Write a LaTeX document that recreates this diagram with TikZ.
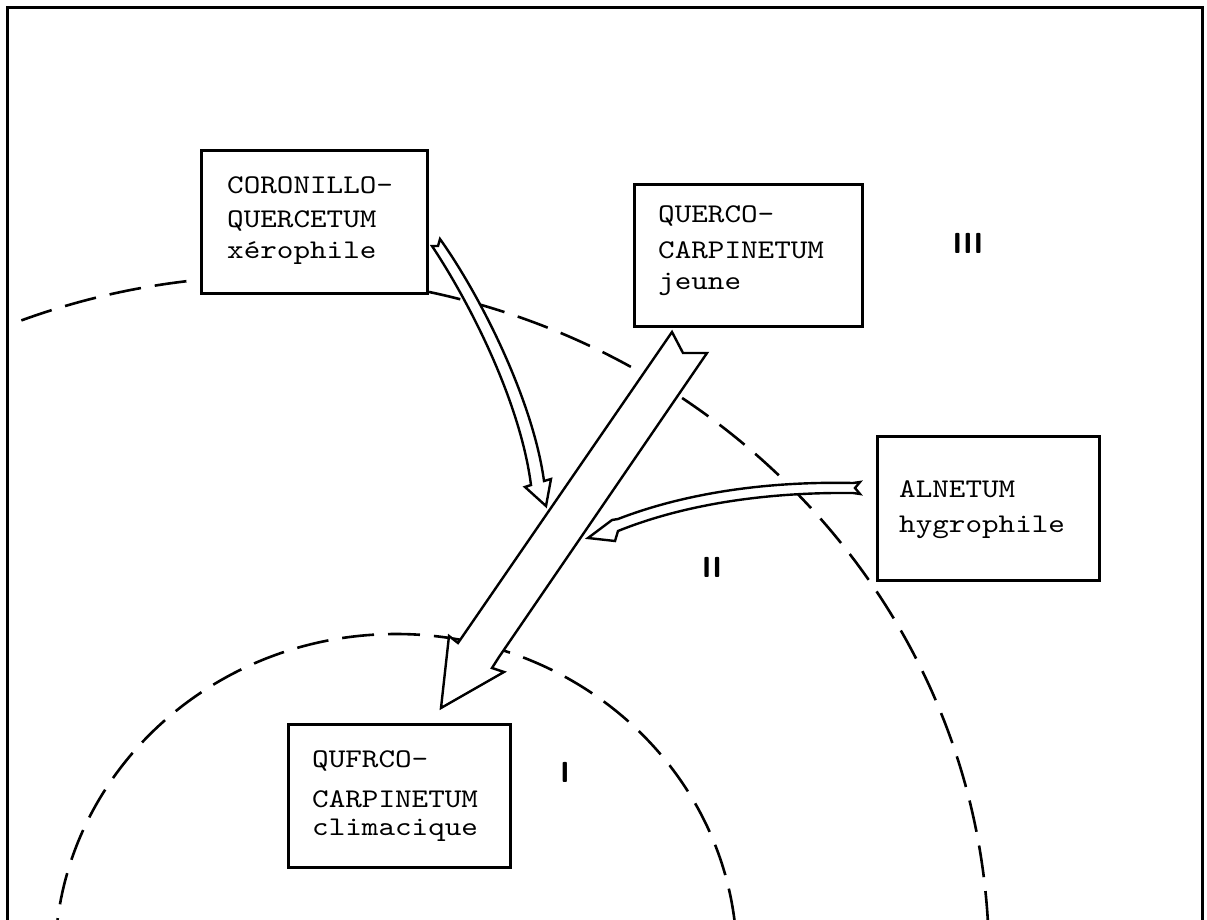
\documentclass[tikz,border=0pt]{standalone}
\usepackage{fontspec}
\newfontfamily\typew{lmmono10-regular}[Extension=.otf,FakeStretch=1.17]
\begin{document}
\begin{tikzpicture}[x=1pt,y=-1pt,
  frame/.style={line width=3pt},
  zone/.style={line width=2.6pt, dash pattern=on 32pt off 14pt},
  boxst/.style={draw, line width=3pt, fill=white, rectangle, inner sep=0pt, anchor=north west},
  txtst/.style={font=\typew\fontsize{27}{30}\selectfont, align=left, inner sep=0pt, anchor=base west},
  zonelab/.style={font=\sffamily\bfseries\fontsize{29}{29}\selectfont, inner sep=0pt},
  arrowst/.style={draw, fill=white, line width=2.4pt, line join=miter}]

\useasboundingbox (0,0) rectangle (1207,920);

% open frame
\draw[frame] (7,920) -- (7,8) -- (1202,8) -- (1202,920);

% zone limits
\begin{scope}
  \clip (7,8) rectangle (1202,920);
  \draw[zone] (275,960) ellipse [x radius=714, y radius=684];
  \draw[zone] (396,960) ellipse [x radius=341, y radius=326];
\end{scope}

% main succession arrow
\draw[arrowst] (672,332) -- (683,353) -- (707,353) -- (499,657) -- (492,668)
  -- (504,672) -- (441,708) -- (449,636) -- (458,643) -- cycle;

% arrow from the xerophile stage
\draw[arrowst] (432,246) .. controls (468,300) and (520,400) .. (531,485)
  -- (525,487) -- (546,506) -- (551,479) -- (544,481)
  .. controls (533,400) and (480,295) .. (440,239) -- (438,246) -- cycle;

% arrow from the hygrophile stage
\draw[arrowst] (860,482) -- (853,483) .. controls (760,481) and (680,495) .. (618,519)
  -- (612,520) -- (588,538) -- (615,541) -- (618,531)
  .. controls (680,506) and (760,492) .. (853,493) -- (860,494) -- (855,488) -- cycle;

% stages
\node[boxst, minimum width=226pt, minimum height=143pt] (coro) at (200,149) {};
\node[boxst, minimum width=228pt, minimum height=142pt] (jeune) at (633,183) {};
\node[boxst, minimum width=222pt, minimum height=144pt] (alnet) at (876,435) {};
\node[boxst, minimum width=222pt, minimum height=143pt] (climax) at (287,723) {};

% stage names (anchored on the baseline of their last line)
\node[txtst] (coro-t) at (227,258) {CORONILLO-\\[5pt]QUERCETUM\\xérophile};
\node[txtst] (jeune-t) at (658,289) {QUERCO-\\[6pt]CARPINETUM\\[1pt]jeune};
\node[txtst] (alnet-t) at (899,532) {ALNETUM\\[5pt]hygrophile};
\node[txtst] (climax-t) at (312,835) {QUFRCO-\\[10pt]CARPINETUM\\[-2pt]climacique};

% zone numbers
\node[zonelab] (z3) at (968,243) {III};
\node[zonelab] (z2) at (712,567) {II};
\node[zonelab] (z1) at (565,772) {I};
\end{tikzpicture}
\end{document}
